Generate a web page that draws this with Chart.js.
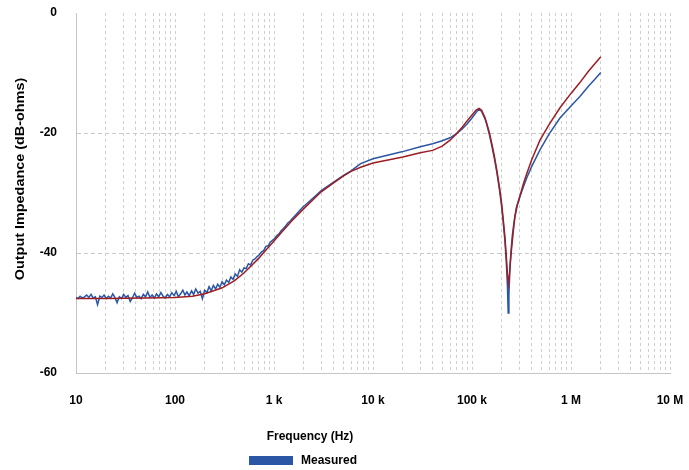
<!DOCTYPE html>
<html>
<head>
<meta charset="utf-8">
<script src="https://cdn.jsdelivr.net/npm/chart.js@4/dist/chart.umd.min.js"></script>
<style>
  html, body { margin: 0; padding: 0; background: #ffffff; }
  #wrap { width: 689px; height: 470px; position: relative; }
</style>
</head>
<body>
<div id="wrap"><canvas id="c" width="689" height="470"></canvas></div>
<script>
// Output impedance sweep: measured vs. simulated (dB-ohms against frequency in Hz)
const measuredFreq = [
  10, 10.5, 11, 11.6, 12.2, 12.8, 13.5, 14.2, 14.9, 15.7,
  16.5, 17.4, 18.3, 19.2, 20.2, 21.3, 22.4, 23.5, 24.7, 26,
  27.4, 28.8, 30.3, 31.9, 33.5, 35.3, 37.1, 39.1, 41.1, 43.3,
  45.5, 47.9, 50.4, 53, 55.8, 58.7, 61.8, 65, 68.4, 72,
  75.7, 79.7, 83.8, 88.2, 92.8, 97.7, 103, 108, 114, 120,
  126, 132, 139, 147, 154, 162, 171, 180, 189, 199,
  210, 221, 232, 244, 257, 270, 284, 299, 315, 331,
  349, 367, 386, 406, 427, 450, 473, 498, 524, 551,
  580, 610, 642, 676, 711, 748, 787, 828, 872, 917,
  965, 1015, 1070, 1125, 1180, 1245, 1310, 1380, 1450, 1525,
  1605, 1690, 1780, 1870, 1970, 2070, 2500, 3000, 4000, 5000,
  6000, 7500, 10000, 15000, 20000, 30000, 40000, 50000, 60000, 70000,
  80000, 90000, 100000, 110000, 118000, 125000, 135000, 141000, 150000, 158000,
  168000, 178000, 190000, 199000, 207000, 215000, 222000, 228000, 232000, 236000,
  241000, 247000, 255000, 265000, 280000, 305000, 330000, 357000, 400000, 486000,
  600000, 774000, 1000000, 1230000, 1500000, 1750000, 2000000
];
const measuredDb = [
  -47.4, -47.6, -47.2, -47.5, -47.3, -47.0, -47.4, -46.9, -47.5, -47.3,
  -48.6, -47.2, -47.4, -47.0, -47.6, -47.2, -47.5, -46.8, -47.4, -48.3,
  -47.3, -47.6, -46.9, -47.4, -47.1, -48.1, -47.5, -46.7, -47.4, -47.2,
  -47.6, -46.9, -47.3, -46.5, -47.4, -47.0, -47.5, -46.8, -47.3, -46.6,
  -47.2, -47.5, -46.9, -47.3, -46.6, -47.1, -46.4, -47.3, -46.8, -46.2,
  -47.0, -46.5, -47.1, -46.3, -46.9, -46.0, -46.7, -46.4, -47.6, -46.2,
  -46.6, -45.6, -46.3, -45.4, -46.0, -45.2, -45.7, -44.8, -45.3, -44.5,
  -44.9, -44.0, -44.4, -43.5, -43.9, -42.8, -43.2, -42.5, -42.6, -41.8,
  -42.0, -41.2, -41.0, -40.6, -40.3, -39.8, -39.6, -38.9, -38.8, -38.2,
  -37.9, -37.6, -37.1, -36.8, -36.3, -35.9, -35.5, -35.0, -34.7, -34.3,
  -33.9, -33.5, -33.1, -32.7, -32.3, -32.0, -30.8, -29.6, -28.2, -27.1,
  -26.3, -25.1, -24.3, -23.6, -23.1, -22.3, -21.8, -21.3, -20.8, -20.1,
  -19.3, -18.4, -17.5, -16.6, -16.0, -16.4, -17.6, -18.6, -20.3, -22.0,
  -24.2, -26.5, -29.6, -32.2, -35.0, -38.0, -41.5, -45.5, -50.0, -47.0,
  -43.0, -40.0, -37.2, -35.0, -32.5, -30.6, -29.0, -27.5, -25.6, -22.8,
  -20.2, -17.5, -15.5, -13.9, -12.2, -11.0, -9.9
];
const simulatedFreq = [
  10, 20, 50, 100, 150, 200, 300, 400, 500, 600,
  700, 800, 1000, 1200, 1500, 2000, 3000, 4000, 5000, 6000,
  7500, 10000, 15000, 20000, 30000, 40000, 50000, 60000, 70000, 80000,
  90000, 100000, 110000, 118000, 125000, 135000, 141000, 150000, 158000, 168000,
  178000, 190000, 199000, 207000, 215000, 222000, 228000, 233000, 238000, 244000,
  251000, 261000, 271000, 287000, 305000, 330000, 357000, 400000, 486000, 600000,
  774000, 1000000, 1230000, 1500000, 1750000, 2000000
];
const simulatedDb = [
  -47.6, -47.6, -47.5, -47.4, -47.2, -46.8, -45.8, -44.6, -43.3, -42.0,
  -40.9, -39.8, -38.0, -36.5, -34.7, -32.6, -29.8, -28.3, -27.2, -26.4,
  -25.7, -25.0, -24.4, -24.0, -23.3, -22.9, -22.2, -21.2, -20.1, -19.0,
  -17.9, -17.0, -16.2, -15.9, -16.2, -17.4, -18.4, -20.0, -21.7, -23.8,
  -26.2, -29.2, -31.7, -34.5, -37.3, -40.5, -43.5, -45.2, -44.0, -41.5,
  -39.3, -36.5, -34.0, -32.0, -30.5, -28.5, -26.8, -24.5, -21.2, -18.6,
  -15.8, -13.4, -11.6, -9.7, -8.4, -7.3
];

const xDecades = [10, 100, 1e3, 1e4, 1e5, 1e6, 1e7];
const xTickLabels = ['10', '100', '1 k', '10 k', '100 k', '1 M', '10 M'];
const yTicks = [0, -20, -40, -60];

const xTitle = 'Frequency (Hz)';
const yTitle = 'Output Impedance (dB-ohms)';
const measuredLabel = 'Measured';
const simulatedLabel = 'Simulated';

const MEASURED_COLOR = '#2b56a6';
const SIMULATED_COLOR = '#9c1d22';
const FONT = '"Liberation Sans", Arial, sans-serif';

function toPoints(xs, ys) {
  return xs.map((x, i) => ({ x: x, y: ys[i] }));
}

// vertical grid at every 1..9 multiple of each decade
const gridFreqs = [];
xDecades.forEach((d, i) => {
  if (i === xDecades.length - 1) { gridFreqs.push(d); return; }
  for (let m = 1; m <= 9; m++) gridFreqs.push(d * m);
});

// axis titles and the single legend entry
const decorations = {
  id: 'decorations',
  afterDraw(chart) {
    const ctx = chart.ctx;
    ctx.save();
    ctx.fillStyle = '#000000';
    ctx.font = 'bold 12px ' + FONT;
    ctx.textBaseline = 'middle';

    ctx.textAlign = 'center';
    ctx.fillText(xTitle, 310, 437);

    ctx.save();
    ctx.translate(21, 179);
    ctx.rotate(-Math.PI / 2);
    ctx.scale(1.2, 1);
    ctx.fillText(yTitle, 0, 0);
    ctx.restore();

    const ds = chart.data.datasets[1];
    ctx.fillStyle = ds.borderColor;
    ctx.fillRect(249, 456, 44, 9);
    ctx.fillStyle = '#000000';
    ctx.textAlign = 'left';
    ctx.fillText(ds.label, 301, 461);
    ctx.restore();
  }
};

new Chart(document.getElementById('c'), {
  type: 'line',
  data: {
    datasets: [
      {
        label: simulatedLabel,
        data: toPoints(simulatedFreq, simulatedDb),
        borderColor: SIMULATED_COLOR,
        borderWidth: 1.5,
        pointRadius: 0,
        tension: 0,
        fill: false
      },
      {
        label: measuredLabel,
        data: toPoints(measuredFreq, measuredDb),
        borderColor: MEASURED_COLOR,
        borderWidth: 1.5,
        pointRadius: 0,
        tension: 0,
        fill: false
      }
    ]
  },
  options: {
    responsive: false,
    animation: false,
    devicePixelRatio: 1,
    layout: { padding: { left: 0, right: 19, top: 13, bottom: 0 } },
    plugins: {
      legend: { display: false },
      tooltip: { enabled: false }
    },
    scales: {
      x: {
        type: 'logarithmic',
        min: 10,
        max: 1e7,
        afterBuildTicks: (scale) => {
          scale.ticks = gridFreqs.map(v => ({ value: v }));
        },
        afterFit: (scale) => {
          scale.height = 97;
          scale.paddingLeft = 0;
          scale.paddingRight = 0;
        },
        grid: {
          color: '#cfcfcf',
          lineWidth: 1,
          drawTicks: false
        },
        border: { display: true, color: '#c4c4c4', width: 1, dash: [3, 3] },
        ticks: {
          autoSkip: false,
          maxRotation: 0,
          padding: 20,
          color: '#000000',
          font: { family: FONT, size: 12, weight: 'bold' },
          callback: (value) => {
            const i = xDecades.indexOf(value);
            return i >= 0 ? xTickLabels[i] : '';
          }
        }
      },
      y: {
        type: 'linear',
        min: -60,
        max: 0,
        afterBuildTicks: (scale) => {
          scale.ticks = yTicks.map(v => ({ value: v }));
        },
        afterFit: (scale) => {
          scale.width = 76;
          scale.paddingTop = 0;
          scale.paddingBottom = 0;
        },
        grid: {
          color: (c) => (c.tick && c.tick.value === 0) ? 'rgba(0,0,0,0)' : '#c8c8c8',
          lineWidth: 1,
          drawTicks: false
        },
        border: { display: true, color: '#c4c4c4', width: 1, dash: [4, 3] },
        ticks: {
          padding: 19,
          color: '#000000',
          font: { family: FONT, size: 12, weight: 'bold' },
          callback: (value) => String(value)
        }
      }
    }
  },
  plugins: [decorations]
});
</script>
</body>
</html>
